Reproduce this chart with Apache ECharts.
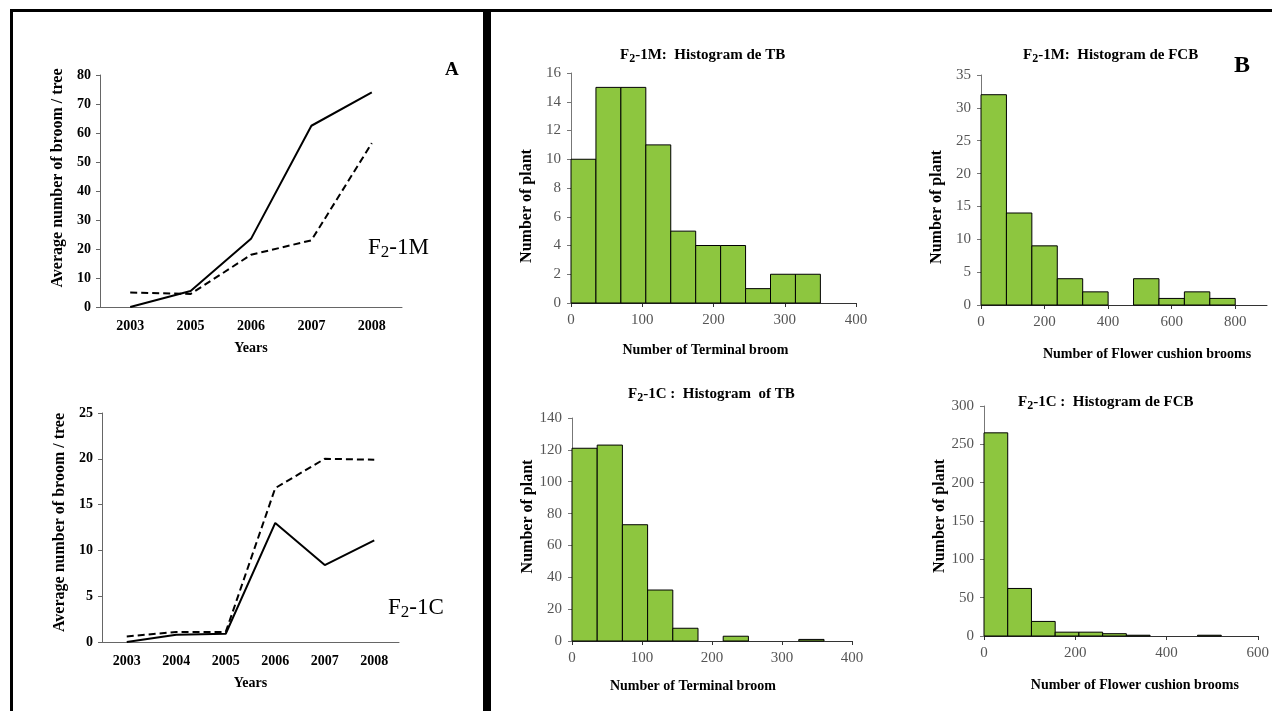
<!DOCTYPE html>
<html>
<head>
<meta charset="utf-8">
<title>Broom counts</title>
<script src="https://cdn.jsdelivr.net/npm/echarts/dist/echarts.min.js"></script>
<style>
  html, body { margin: 0; padding: 0; background: #fff; }
  #main { width: 1272px; height: 711px; }
</style>
</head>
<body>
<div id="main"></div>
<script>
// ---- panel A : average broom per tree ----
const yearsM = ['2003', '2005', '2006', '2007', '2008']
const mSolid = [0, 5.5, 23.5, 62.5, 74]
const mDashed = [5, 4.5, 18, 23, 56.5]

const yearsC = ['2003', '2004', '2005', '2006', '2007', '2008']
const cSolid = [0, 0.8, 0.9, 13, 8.4, 11.1]
const cDashed = [0.6, 1.1, 1.1, 16.8, 20, 19.9]

// ---- panel B : histograms (bin start, bin end, count) ----
const tbMStart = [0, 35, 70, 105, 140, 175, 210, 245, 280, 315]
const tbMEnd = [35, 70, 105, 140, 175, 210, 245, 280, 315, 350]
const tbMCount = [10, 15, 15, 11, 5, 4, 4, 1, 2, 2]

const fcbMStart = [0, 80, 160, 240, 320, 400, 480, 560, 640, 720]
const fcbMEnd = [80, 160, 240, 320, 400, 480, 560, 640, 720, 800]
const fcbMCount = [32, 14, 9, 4, 2, 0, 4, 1, 2, 1]

const tbCStart = [0, 36, 72, 108, 144, 180, 216, 252, 288, 324]
const tbCEnd = [36, 72, 108, 144, 180, 216, 252, 288, 324, 360]
const tbCCount = [121, 123, 73, 32, 8, 0, 3, 0, 0, 1]

const fcbCStart = [0, 52, 104, 156, 208, 260, 312, 364, 416, 468]
const fcbCEnd = [52, 104, 156, 208, 260, 312, 364, 416, 468, 520]
const fcbCCount = [265, 62, 19, 5, 5, 3, 1, 0, 0, 1]

const serif = '"Liberation Serif", "Times New Roman", serif'
const green = '#8dc63f'

function bins(start, end, count) {
  return start.map((s, i) => [s, end[i], count[i]])
}

function histSeries(idx, data) {
  return {
    type: 'custom',
    xAxisIndex: idx,
    yAxisIndex: idx,
    encode: { x: [0, 1], y: 2 },
    data: data,
    renderItem: function(params, api) {
      if (!api.value(2)) return null
      const p0 = api.coord([api.value(0), 0])
      const p1 = api.coord([api.value(1), api.value(2)])
      return {
        type: 'rect',
        shape: { x: p0[0], y: p1[1], width: p1[0] - p0[0], height: p0[1] - p1[1] },
        style: { fill: green, stroke: '#000', lineWidth: 1 }
      }
    }
  }
}

function lineSeries(idx, data, dashed) {
  return {
    type: 'line',
    xAxisIndex: idx,
    yAxisIndex: idx,
    data: data,
    symbol: 'none',
    lineStyle: { color: '#000', width: 2, type: dashed ? [7, 4] : 'solid' }
  }
}

// line-chart axes (bold labels)
function catAxis(idx, data, gap) {
  return {
    type: 'category',
    gridIndex: idx,
    data: data,
    name: 'Years',
    nameLocation: 'middle',
    nameGap: gap,
    nameTextStyle: { fontFamily: serif, fontWeight: 'bold', fontSize: 14, color: '#000' },
    axisLine: { lineStyle: { color: '#666', width: 1 } },
    axisTick: { interval: 0, length: 4, lineStyle: { color: '#666' } },
    axisLabel: { interval: 0, margin: 12, fontFamily: serif, fontWeight: 'bold', fontSize: 14, color: '#000' }
  }
}

function lineYAxis(idx, max, step, pad) {
  return {
    type: 'value',
    gridIndex: idx,
    min: 0,
    max: max,
    interval: step,
    name: 'Average number of broom / tree',
    nameLocation: 'middle',
    nameGap: 34,
    nameTextStyle: { fontFamily: serif, fontWeight: 'bold', fontSize: 16, color: '#000', padding: pad },
    axisLine: { show: true, lineStyle: { color: '#666', width: 1 } },
    axisTick: { show: true, length: 4, lineStyle: { color: '#666' } },
    axisLabel: { margin: 9, fontFamily: serif, fontWeight: 'bold', fontSize: 14, color: '#000' },
    splitLine: { show: false }
  }
}

// histogram axes (plain grey labels)
function histXAxis(idx, max, step, name, gap, pad) {
  return {
    type: 'value',
    gridIndex: idx,
    min: 0,
    max: max,
    interval: step,
    name: name,
    nameLocation: 'middle',
    nameGap: gap,
    nameTextStyle: { fontFamily: serif, fontWeight: 'bold', fontSize: 14, color: '#000', padding: pad },
    axisLine: { lineStyle: { color: '#333', width: 1 } },
    axisTick: { length: 4, lineStyle: { color: '#333' } },
    axisLabel: { showMaxLabel: max % step === 0, margin: 10, fontFamily: serif, fontSize: 15, color: '#555' },
    splitLine: { show: false }
  }
}

function histYAxis(idx, max, step, pad) {
  return {
    type: 'value',
    gridIndex: idx,
    min: 0,
    max: max,
    interval: step,
    name: 'Number of plant',
    nameLocation: 'middle',
    nameGap: 36,
    nameTextStyle: { fontFamily: serif, fontWeight: 'bold', fontSize: 16, color: '#000', padding: pad },
    axisLine: { show: true, lineStyle: { color: '#777', width: 1 } },
    axisTick: { show: true, length: 4, lineStyle: { color: '#777' } },
    axisLabel: { margin: 10, fontFamily: serif, fontSize: 15, color: '#555' },
    splitLine: { show: false }
  }
}

function subTitle(x, y, code, rest) {
  return {
    type: 'text',
    left: x,
    top: y,
    style: {
      text: '{n|F}{s|2}{n|' + code + '}{n|' + rest + '}',
      rich: {
        n: { fontFamily: serif, fontWeight: 'bold', fontSize: 15, lineHeight: 18, color: '#000' },
        s: { fontFamily: serif, fontWeight: 'bold', fontSize: 12, lineHeight: 9, verticalAlign: 'bottom', color: '#000' }
      }
    }
  }
}

function bigLabel(x, y, code) {
  return {
    type: 'text',
    left: x,
    top: y,
    style: {
      text: '{n|F}{s|2}{n|' + code + '}',
      rich: {
        n: { fontFamily: serif, fontSize: 23, lineHeight: 28, color: '#111' },
        s: { fontFamily: serif, fontSize: 17, lineHeight: 14, verticalAlign: 'bottom', color: '#111' }
      }
    }
  }
}

const chart = echarts.init(document.getElementById('main'))

chart.setOption({
  backgroundColor: '#fff',
  animation: false,
  grid: [
    { left: 100, top: 75, width: 302, height: 232 },
    { left: 102, top: 413, width: 297, height: 229 },
    { left: 571, top: 73, width: 285, height: 230 },
    { left: 981, top: 75, width: 286, height: 230 },
    { left: 572, top: 418, width: 280, height: 223 },
    { left: 984, top: 406, width: 279, height: 230 }
  ],
  xAxis: [
    catAxis(0, yearsM, 34),
    catAxis(1, yearsC, 34),
    histXAxis(2, 400, 100, 'Number of Terminal broom', 40, [0, 16, 0, 0]),
    histXAxis(3, 900, 200, 'Number of Flower cushion brooms', 42, [0, 0, 0, 46]),
    histXAxis(4, 400, 100, 'Number of Terminal broom', 38, [0, 38, 0, 0]),
    histXAxis(5, 600, 200, 'Number of Flower cushion brooms', 42, [0, 0, 0, 28])
  ],
  yAxis: [
    lineYAxis(0, 80, 10, [0, 0, 0, 26]),
    lineYAxis(1, 25, 5, [0, 0, 0, 10]),
    histYAxis(2, 16, 2, [0, 36, 0, 0]),
    histYAxis(3, 35, 5, [0, 34, 0, 0]),
    histYAxis(4, 140, 20, [0, 0, 0, 26]),
    histYAxis(5, 300, 50, [0, 0, 0, 10])
  ],
  series: [
    lineSeries(0, mSolid, false),
    lineSeries(0, mDashed, true),
    lineSeries(1, cSolid, false),
    lineSeries(1, cDashed, true),
    histSeries(2, bins(tbMStart, tbMEnd, tbMCount)),
    histSeries(3, bins(fcbMStart, fcbMEnd, fcbMCount)),
    histSeries(4, bins(tbCStart, tbCEnd, tbCCount)),
    histSeries(5, bins(fcbCStart, fcbCEnd, fcbCCount))
  ],
  graphic: [
    // frame
    { type: 'rect', shape: { x: 10, y: 9, width: 1262, height: 3 }, style: { fill: '#000' } },
    { type: 'rect', shape: { x: 10, y: 9, width: 3, height: 702 }, style: { fill: '#000' } },
    { type: 'rect', shape: { x: 483, y: 9, width: 8, height: 702 }, style: { fill: '#000' } },
    // panel letters
    { type: 'text', left: 445, top: 61, style: { text: 'A', fontFamily: serif, fontWeight: 'bold', fontSize: 19, fill: '#000' } },
    { type: 'text', left: 1234, top: 54, style: { text: 'B', fontFamily: serif, fontWeight: 'bold', fontSize: 24, fill: '#000' } },
    bigLabel(368, 236, '-1M'),
    bigLabel(388, 596, '-1C'),
    subTitle(620, 48, '-1M:', '  Histogram de TB'),
    subTitle(1023, 48, '-1M:', '  Histogram de FCB'),
    subTitle(628, 387, '-1C :', '  Histogram  of TB'),
    subTitle(1018, 395, '-1C :', '  Histogram de FCB')
  ]
})
</script>
</body>
</html>
